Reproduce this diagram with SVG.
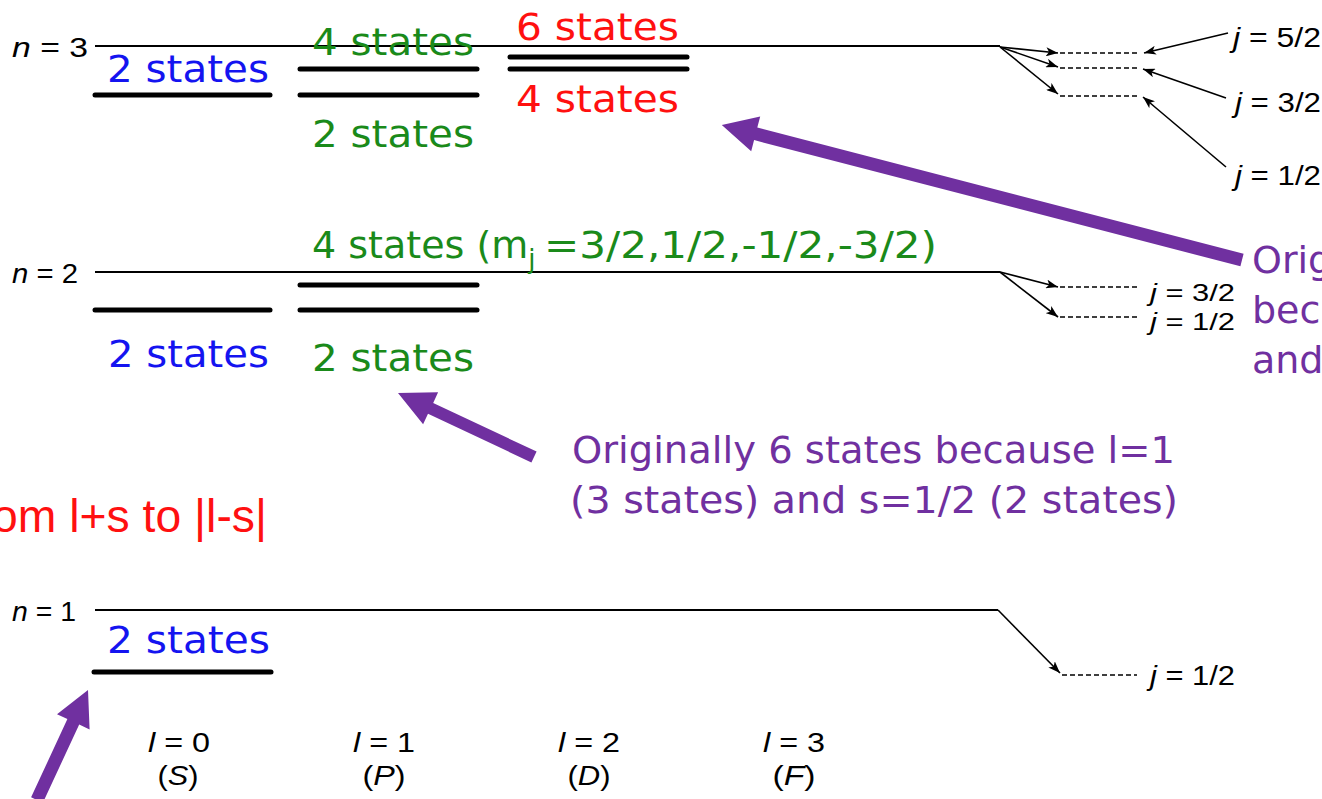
<svg xmlns="http://www.w3.org/2000/svg" width="1322" height="799" viewBox="0 0 1322 799">
<defs>
<style>
.thin{stroke:#000;stroke-width:2;fill:none}
.lvl{stroke:#000;stroke-width:5;stroke-linecap:round;fill:none}
.dash{stroke:#000;stroke-width:1.5;stroke-dasharray:5 3;fill:none}
.arr{stroke:#000;stroke-width:1.6;fill:none;marker-end:url(#ah)}
.lab{font-family:"Liberation Sans",Arial,sans-serif;font-size:27px;fill:#000}
.sm{font-size:24px}
.it{font-style:italic}
.cs{font-family:"DejaVu Sans","Noto Sans",sans-serif;font-size:38px}
.blue{fill:#1414f0}
.green{fill:#1a8a1a}
.red{fill:#ff1010}
.purple{fill:#7030a0}
.pa{fill:#7030a0;stroke:none}
</style>
<marker id="ah" viewBox="0 0 12 9" refX="12" refY="4.5" markerWidth="12" markerHeight="9" markerUnits="userSpaceOnUse" orient="auto">
<path d="M0,0 L12,4.5 L0,9 L3,4.5 z" fill="#000"/>
</marker>
</defs>
<rect width="1322" height="799" fill="#fff"/>

<g id="n3">
<text class="lab" x="12" y="57" textLength="76" lengthAdjust="spacingAndGlyphs"><tspan class="it">n</tspan> = 3</text>
<line class="thin" x1="95" y1="46" x2="1000" y2="46"/>
<line class="lvl" x1="95" y1="95" x2="270" y2="95"/>
<line class="lvl" x1="300" y1="69" x2="477" y2="69"/>
<line class="lvl" x1="300" y1="95" x2="477" y2="95"/>
<line class="lvl" x1="510" y1="57" x2="687" y2="57"/>
<line class="lvl" x1="510" y1="69" x2="687" y2="69"/>
<line class="dash" x1="1060" y1="53" x2="1138" y2="53"/>
<line class="dash" x1="1060" y1="68" x2="1138" y2="68"/>
<line class="dash" x1="1060" y1="96" x2="1138" y2="96"/>
<text class="cs blue" x="107" y="82" textLength="162" lengthAdjust="spacingAndGlyphs">2 states</text>
<text class="cs green" x="312" y="55" textLength="162" lengthAdjust="spacingAndGlyphs">4 states</text>
<text class="cs green" x="312" y="147" textLength="162" lengthAdjust="spacingAndGlyphs">2 states</text>
<text class="cs red" x="516" y="40" textLength="163" lengthAdjust="spacingAndGlyphs">6 states</text>
<text class="cs red" x="516" y="112" textLength="163" lengthAdjust="spacingAndGlyphs">4 states</text>
<text class="lab" x="1233" y="47" textLength="88" lengthAdjust="spacingAndGlyphs"><tspan class="it">j</tspan> = 5/2</text>
<text class="lab" x="1235" y="112" textLength="86" lengthAdjust="spacingAndGlyphs"><tspan class="it">j</tspan> = 3/2</text>
<text class="lab" x="1235" y="185" textLength="86" lengthAdjust="spacingAndGlyphs"><tspan class="it">j</tspan> = 1/2</text>
</g>

<g id="n2">
<text class="lab" x="12" y="283" textLength="66" lengthAdjust="spacingAndGlyphs"><tspan class="it">n</tspan> = 2</text>
<line class="thin" x1="95" y1="272" x2="1000" y2="272"/>
<line class="lvl" x1="95" y1="310" x2="270" y2="310"/>
<line class="lvl" x1="300" y1="285" x2="477" y2="285"/>
<line class="lvl" x1="300" y1="310" x2="477" y2="310"/>
<line class="dash" x1="1060" y1="287" x2="1137" y2="287"/>
<line class="dash" x1="1060" y1="317" x2="1137" y2="317"/>
<text class="cs green" x="312" y="258">4 states (m<tspan font-size="26px" dy="10">j</tspan><tspan x="544" dy="-10" textLength="393" lengthAdjust="spacingAndGlyphs">=3/2,1/2,-1/2,-3/2)</tspan></text>
<text class="cs blue" x="108" y="367" textLength="161" lengthAdjust="spacingAndGlyphs">2 states</text>
<text class="cs green" x="312" y="371" textLength="162" lengthAdjust="spacingAndGlyphs">2 states</text>
<text class="lab sm" x="1150" y="301" textLength="85" lengthAdjust="spacingAndGlyphs"><tspan class="it">j</tspan> = 3/2</text>
<text class="lab sm" x="1150" y="330" textLength="85" lengthAdjust="spacingAndGlyphs"><tspan class="it">j</tspan> = 1/2</text>
</g>

<g id="n1">
<text class="lab" x="12" y="621" textLength="64" lengthAdjust="spacingAndGlyphs"><tspan class="it">n</tspan> = 1</text>
<line class="thin" x1="95" y1="610" x2="998" y2="610"/>
<line class="lvl" x1="94" y1="672" x2="271" y2="672"/>
<line class="dash" x1="1062" y1="675" x2="1137" y2="675"/>
<text class="cs blue" x="107" y="653" textLength="163" lengthAdjust="spacingAndGlyphs">2 states</text>
<text class="lab" x="1150" y="685" textLength="85" lengthAdjust="spacingAndGlyphs"><tspan class="it">j</tspan> = 1/2</text>
</g>

<g id="l-labels">
<text class="lab" x="179" y="752" text-anchor="middle" textLength="62" lengthAdjust="spacingAndGlyphs"><tspan class="it">l</tspan> = 0</text>
<text class="lab" x="178" y="785" text-anchor="middle" textLength="41" lengthAdjust="spacingAndGlyphs">(<tspan class="it">S</tspan>)</text>
<text class="lab" x="384" y="752" text-anchor="middle" textLength="62" lengthAdjust="spacingAndGlyphs"><tspan class="it">l</tspan> = 1</text>
<text class="lab" x="384" y="785" text-anchor="middle" textLength="43" lengthAdjust="spacingAndGlyphs">(<tspan class="it">P</tspan>)</text>
<text class="lab" x="589" y="752" text-anchor="middle" textLength="62" lengthAdjust="spacingAndGlyphs"><tspan class="it">l</tspan> = 2</text>
<text class="lab" x="589" y="785" text-anchor="middle" textLength="43" lengthAdjust="spacingAndGlyphs">(<tspan class="it">D</tspan>)</text>
<text class="lab" x="794" y="752" text-anchor="middle" textLength="62" lengthAdjust="spacingAndGlyphs"><tspan class="it">l</tspan> = 3</text>
<text class="lab" x="794" y="785" text-anchor="middle" textLength="43" lengthAdjust="spacingAndGlyphs">(<tspan class="it">F</tspan>)</text>
</g>

<g id="notes">
<text class="cs purple" x="572" y="463" textLength="603" lengthAdjust="spacingAndGlyphs">Originally 6 states because l=1</text>
<text class="cs purple" x="570" y="513" textLength="608" lengthAdjust="spacingAndGlyphs">(3 states) and s=1/2 (2 states)</text>
<text class="cs purple" x="1252" y="273">Orig</text>
<text class="cs purple" x="1252" y="323">bec</text>
<text class="cs purple" x="1252" y="373">and</text>
<text x="-8" y="532" font-family="Liberation Sans,Arial,sans-serif" font-size="47" fill="#ff1010" textLength="275" lengthAdjust="spacingAndGlyphs">om l+s to |l-s|</text>
</g>

<g id="connectors">
<line class="arr" x1="1000" y1="47" x2="1058" y2="53"/>
<line class="arr" x1="1000" y1="47" x2="1058" y2="67"/>
<line class="arr" x1="1000" y1="47" x2="1058" y2="94"/>
<line class="arr" x1="1228" y1="33" x2="1144" y2="53"/>
<line class="arr" x1="1226" y1="98" x2="1143" y2="69"/>
<line class="arr" x1="1226" y1="167" x2="1143" y2="97"/>
<line class="arr" x1="1000" y1="272" x2="1058" y2="287"/>
<line class="arr" x1="1000" y1="272" x2="1058" y2="317"/>
<line class="arr" x1="998" y1="610" x2="1060" y2="673"/>
<polygon class="pa" points="1243.6,253.7 757.3,127.5 760.2,116.4 721.8,125 751.2,151.2 754.1,140.1 1240.4,266.3"/>
<polygon class="pa" points="536.6,451.6 433.2,402.9 438.1,392.3 398,393 423.1,424.3 428,413.7 531.4,462.4"/>
<polygon class="pa" points="31.1,797.3 67.4,719.1 57,714.2 88,690 89.6,729.4 79.2,724.5 42.9,802.7"/>
</g>
</svg>
